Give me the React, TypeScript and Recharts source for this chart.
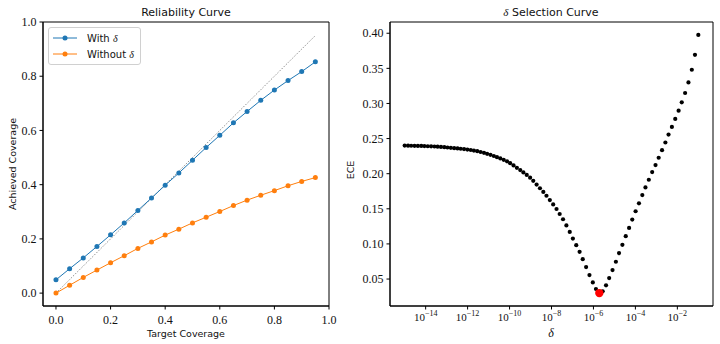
import React from "react";
import { LineChart, Line, ScatterChart, Scatter, XAxis, YAxis, Legend, ReferenceLine, ReferenceArea } from "recharts";

// reliability curve (left)
const targetCoverage = [0, 0.05, 0.1, 0.15, 0.2, 0.25, 0.3, 0.35, 0.4, 0.45, 0.5, 0.55, 0.6, 0.65, 0.7, 0.75, 0.8, 0.85, 0.9, 0.95];
const withDelta = [0.049, 0.09, 0.13, 0.172, 0.215, 0.259, 0.305, 0.351, 0.398, 0.443, 0.49, 0.537, 0.582, 0.628, 0.67, 0.711, 0.749, 0.784, 0.817, 0.853];
const withoutDelta = [0.0, 0.029, 0.058, 0.085, 0.112, 0.138, 0.165, 0.189, 0.214, 0.236, 0.259, 0.28, 0.301, 0.323, 0.343, 0.361, 0.378, 0.396, 0.412, 0.426];
const coverageTicks = [0, 0.2, 0.4, 0.6, 0.8, 1.0];

// delta selection curve (right), delta = 10^exp
const deltaExps = [
  -15.0, -14.84, -14.69, -14.53, -14.37, -14.21, -14.06, -13.9, -13.74, -13.58,
  -13.43, -13.27, -13.11, -12.96, -12.8, -12.64, -12.48, -12.33, -12.17, -12.01,
  -11.85, -11.7, -11.54, -11.38, -11.22, -11.07, -10.91, -10.75, -10.6, -10.44,
  -10.28, -10.12, -9.97, -9.81, -9.65, -9.49, -9.34, -9.18, -9.02, -8.87,
  -8.71, -8.55, -8.39, -8.24, -8.08, -7.92, -7.76, -7.61, -7.45, -7.29,
  -7.13, -6.98, -6.82, -6.66, -6.51, -6.35, -6.19, -6.03, -5.88, -5.72,
  -5.56, -5.4, -5.25, -5.09, -4.93, -4.78, -4.62, -4.46, -4.3, -4.15,
  -3.99, -3.83, -3.67, -3.52, -3.36, -3.2, -3.04, -2.89, -2.73, -2.57,
  -2.42, -2.26, -2.1, -1.94, -1.79, -1.63, -1.47, -1.31, -1.16, -1.0,
];
const eceValues = [
  0.24, 0.2399, 0.2398, 0.2397, 0.2396, 0.2395, 0.2393, 0.2391, 0.2389, 0.2387,
  0.2384, 0.2381, 0.2377, 0.2373, 0.2369, 0.2364, 0.236, 0.2355, 0.235, 0.2344,
  0.2337, 0.2329, 0.232, 0.2309, 0.2297, 0.2283, 0.2268, 0.2252, 0.2235, 0.2217,
  0.2198, 0.2176, 0.215, 0.2118, 0.2084, 0.2051, 0.2018, 0.1983, 0.1943, 0.1898,
  0.1845, 0.1793, 0.174, 0.1686, 0.1625, 0.1563, 0.1497, 0.1426, 0.1351, 0.1264,
  0.1171, 0.1076, 0.0982, 0.0887, 0.0783, 0.067, 0.0556, 0.0451, 0.0358, 0.03,
  0.0325, 0.041, 0.0514, 0.0628, 0.0746, 0.0869, 0.0987, 0.111, 0.1228, 0.1346,
  0.1465, 0.1578, 0.1695, 0.1805, 0.1914, 0.2023, 0.2122, 0.2227, 0.2335, 0.2444,
  0.2557, 0.2666, 0.278, 0.2898, 0.3016, 0.3149, 0.33, 0.348, 0.3693, 0.3976,
];
const eceTicks = [0.05, 0.1, 0.15, 0.2, 0.25, 0.3, 0.35, 0.4];
const deltaTickExps = [-14, -12, -10, -8, -6, -4, -2];

const BLUE = "#1f77b4";
const ORANGE = "#ff7f0e";
const SERIF = "'Liberation Serif', 'DejaVu Serif', serif";
const SANS = "'DejaVu Sans', sans-serif";

const coverageRows = targetCoverage.map((t, i) => ({ target: t, withDelta: withDelta[i], withoutDelta: withoutDelta[i] }));
const eceRows = deltaExps.map((e, i) => ({ delta: Math.pow(10, e), ece: eceValues[i] }));
const bestIdx = eceValues.indexOf(Math.min(...eceValues));
const bestRow = [eceRows[bestIdx]];

const covDom: [number, number] = [-0.0475, 1.0];
const deltaDom: [number, number] = [Math.pow(10, -15.7), Math.pow(10, -0.3)];
const eceDom: [number, number] = [0.0116, 0.416];

const tickStyle = { fontFamily: SERIF, fontSize: 12, fill: "#111" };
const axisLine = { stroke: "#000", strokeWidth: 1 };

function Delta() {
  return <span style={{ fontFamily: SERIF, fontStyle: "italic" }}>δ</span>;
}

function LegendBox({ payload }: any) {
  return (
    <div style={{ border: "1px solid #d0d0d0", borderRadius: 3, background: "rgba(255,255,255,0.8)", padding: "2px 6px 2px 3px", fontFamily: SANS, fontSize: 10, color: "#111" }}>
      {(payload || []).map((p: any) => {
        const [pre] = String(p.value).split("δ");
        return (
          <div key={p.value} style={{ display: "flex", alignItems: "center", height: 16 }}>
            <svg width={26} height={10} style={{ marginRight: 9 }}>
              <line x1={1} y1={5} x2={25} y2={5} stroke={p.color} strokeWidth={1} />
              <circle cx={13} cy={5} r={2.5} fill={p.color} />
            </svg>
            <span>{pre}<Delta /></span>
          </div>
        );
      })}
    </div>
  );
}

function DeltaTick({ x, y, payload }: any) {
  const k = Math.round(Math.log10(payload.value));
  return (
    <text x={x} y={y} dy={8} textAnchor="middle" fontFamily={SERIF} fontSize={11} fill="#111">
      <tspan>10</tspan>
      <tspan dy={-5} fontSize={8}>{"\u2212" + Math.abs(k)}</tspan>
    </text>
  );
}

const label = (left: number, top: number, rotate = false): React.CSSProperties => ({
  position: "absolute", left, top, transform: `translate(-50%, -50%)${rotate ? " rotate(-90deg)" : ""}`,
  whiteSpace: "nowrap", fontFamily: SANS, color: "#111",
});

export default function App() {
  return (
    <div style={{ position: "fixed", left: 0, top: 0, width: 720, height: 344, background: "#fff", overflow: "hidden" }}>
      <div style={{ position: "absolute", left: 0, top: 0 }}>
        <LineChart width={340} height={344} data={coverageRows} margin={{ top: 22, right: 11, bottom: 8, left: 13 }}>
          <XAxis type="number" dataKey="target" domain={covDom} ticks={coverageTicks} allowDataOverflow interval={0}
            tickFormatter={(v: number) => v.toFixed(1)} height={30} tickSize={3.5} tickMargin={6}
            axisLine={axisLine} tickLine={axisLine} tick={tickStyle} />
          <YAxis type="number" domain={covDom} ticks={coverageTicks} allowDataOverflow interval={0}
            tickFormatter={(v: number) => v.toFixed(1)} width={30} tickSize={3.5} tickMargin={3}
            axisLine={axisLine} tickLine={axisLine} tick={tickStyle} />
          <ReferenceArea x1={covDom[0]} x2={covDom[1]} y1={covDom[0]} y2={covDom[1]} fill="none" stroke="#000" strokeWidth={1} ifOverflow="visible" />
          <ReferenceLine segment={[{ x: 0, y: 0 }, { x: 0.95, y: 0.95 }]} stroke="#777" strokeWidth={0.8} strokeDasharray="1.5 1.5" />
          <Line dataKey="withDelta" name="With δ" stroke={BLUE} strokeWidth={1} dot={{ r: 2.5, fill: BLUE, stroke: BLUE, strokeWidth: 0 }} isAnimationActive={false} />
          <Line dataKey="withoutDelta" name="Without δ" stroke={ORANGE} strokeWidth={1} dot={{ r: 2.5, fill: ORANGE, stroke: ORANGE, strokeWidth: 0 }} isAnimationActive={false} />
          <Legend layout="horizontal" verticalAlign="middle" align="center" content={<LegendBox />}
            wrapperStyle={{ top: 27, left: 48, width: "auto", height: "auto" }} />
        </LineChart>
      </div>
      <div style={{ position: "absolute", left: 350, top: 0 }}>
        <ScatterChart width={370} height={344} margin={{ top: 22, right: 7, bottom: 8, left: 0 }}>
          <XAxis type="number" dataKey="delta" scale="log" domain={deltaDom} ticks={deltaTickExps.map((k) => Math.pow(10, k))} allowDataOverflow interval={0}
            height={30} tickSize={3.5} tickMargin={3} axisLine={axisLine} tickLine={axisLine} tick={<DeltaTick />} />
          <YAxis type="number" dataKey="ece" domain={eceDom} ticks={eceTicks} allowDataOverflow interval={0}
            tickFormatter={(v: number) => v.toFixed(2)} width={40} tickSize={3.5} tickMargin={3}
            axisLine={axisLine} tickLine={axisLine} tick={tickStyle} />
          <ReferenceArea x1={deltaDom[0]} x2={deltaDom[1]} y1={eceDom[0]} y2={eceDom[1]} fill="none" stroke="#000" strokeWidth={1} ifOverflow="visible" />
          <Scatter data={eceRows} fill="#000" isAnimationActive={false}
            shape={(p: any) => <circle cx={p.cx} cy={p.cy} r={2.1} fill="#000" />} />
          <Scatter data={bestRow} fill="#f00" isAnimationActive={false}
            shape={(p: any) => <circle cx={p.cx} cy={p.cy} r={4.2} fill="#ff0000" />} />
        </ScatterChart>
      </div>
      <div style={{ ...label(186, 12), fontSize: 11 }}>Reliability Curve</div>
      <div style={{ ...label(551, 12), fontSize: 11 }}><Delta /> Selection Curve</div>
      <div style={{ ...label(186, 333), fontSize: 9.5 }}>Target Coverage</div>
      <div style={{ ...label(12, 164, true), fontSize: 9.5 }}>Achieved Coverage</div>
      <div style={{ ...label(350, 170, true), fontSize: 9.5 }}>ECE</div>
      <div style={{ ...label(551, 333), fontSize: 12, fontFamily: SERIF, fontStyle: "italic" }}>δ</div>
    </div>
  );
}
